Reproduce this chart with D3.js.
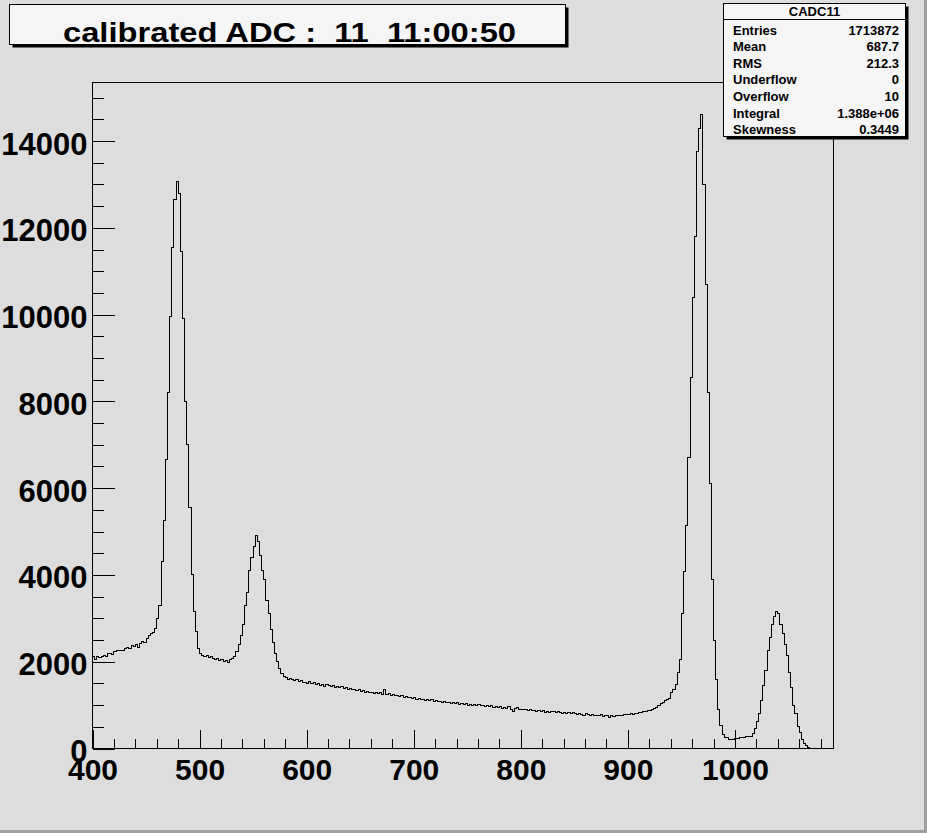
<!DOCTYPE html>
<html><head><meta charset="utf-8">
<script src="https://cdn.jsdelivr.net/npm/d3@7"></script>
<style>html,body{margin:0;padding:0;background:#dddddd;}svg{display:block;}</style>
</head><body>
<script>
// ---- data ----
const binStart = 400;
const binWidth = 2;
const xMax = 1092;
const counts = [
  2110,2060,2130,2100,2120,2150,2130,2180,2200,2170,
  2230,2260,2250,2270,2260,2300,2330,2310,2370,2340,
  2400,2330,2430,2460,2450,2530,2600,2640,2680,2760,
  3000,3300,4300,5250,6650,8200,9950,11550,12650,13070,
  12780,11450,9900,8000,7000,5550,4000,3150,2700,2300,
  2200,2150,2120,2140,2100,2130,2080,2050,2070,2020,
  2040,2000,2030,1990,2050,2080,2120,2230,2400,2600,
  2850,3300,3600,4100,4400,4650,4900,4780,4450,4100,
  3900,3400,3100,2750,2450,2200,2000,1850,1720,1670,
  1640,1600,1620,1590,1560,1580,1540,1560,1510,1530,
  1500,1540,1490,1510,1470,1500,1460,1480,1440,1470,
  1450,1430,1460,1410,1440,1400,1420,1390,1410,1370,
  1390,1350,1370,1340,1360,1320,1340,1300,1320,1290,
  1300,1270,1290,1260,1280,1250,1360,1240,1260,1230,
  1240,1210,1230,1200,1210,1180,1200,1170,1180,1150,
  1170,1140,1160,1130,1140,1110,1130,1100,1120,1090,
  1110,1080,1090,1060,1080,1050,1070,1040,1060,1030,
  1050,1020,1040,1010,1030,1000,1020,990,1010,980,
  1010,990,1000,970,990,960,980,950,970,940,
  960,930,950,920,960,900,860,930,950,900,
  910,890,900,870,890,870,880,850,870,860,
  880,840,860,830,850,860,820,850,830,810,
  840,810,830,800,820,810,790,810,790,770,
  800,780,770,790,770,760,770,780,730,770,
  760,720,760,740,760,750,770,760,780,790,
  780,800,790,810,800,830,820,850,860,880,
  870,900,930,950,990,1040,1070,1110,1130,1150,
  1280,1350,1470,1750,2050,3120,4080,5130,6700,8550,
  10400,11800,13750,14300,14618,13000,10700,8200,6100,3900,
  2500,1600,900,540,330,265,250,205,200,200,
  230,235,245,250,255,270,280,285,340,470,
  620,800,1100,1450,1800,2250,2550,2850,3050,3147,
  3120,2850,2650,2400,2150,1750,1400,1000,800,500,
  360,200,110,60,25,0,0,0,0,0,
  0,0,0,0,0,0
];
const xTickValues = [400,500,600,700,800,900,1000];
const yTickValues = [0,2000,4000,6000,8000,10000,12000,14000];
const titleText = "calibrated ADC :  11  11:00:50";
const statsName = "CADC11";
const statLabels = ["Entries","Mean","RMS","Underflow","Overflow","Integral","Skewness"];
const statValues = ["1713872","687.7","212.3","0","10","1.388e+06","0.3449"];

// ---- layout ----
const W = 927, H = 833;
const fx0 = 92.5, fx1 = 833.5, fy0 = 82.5, fy1 = 748.5;
const FONT = "'Liberation Sans', Arial, Helvetica, sans-serif";

const svg = d3.select("body").append("svg").attr("width", W).attr("height", H);
svg.append("rect").attr("width", W).attr("height", H).attr("fill", "#dddddd");
// canvas bevel (bottom / right darker)
svg.append("rect").attr("x", 0).attr("y", H - 3).attr("width", W).attr("height", 3).attr("fill", "#a0a0a0");
svg.append("rect").attr("x", W - 3).attr("y", 0).attr("width", 3).attr("height", H).attr("fill", "#a0a0a0");

const x = d3.scaleLinear().domain([binStart, xMax]).range([fx0, fx1]);
const ymax = d3.max(counts) * 1.05;
const y = d3.scaleLinear().domain([0, ymax]).range([fy1, fy0]);

// frame
svg.append("rect").attr("x", fx0).attr("y", fy0).attr("width", fx1 - fx0).attr("height", fy1 - fy0)
  .attr("fill", "#dddddd").attr("stroke", "#000").attr("stroke-width", 1).attr("shape-rendering", "crispEdges");

// histogram outline
let d = `M${x(binStart)},${y(counts[0])}`;
counts.forEach((c, i) => {
  d += `H${x(binStart + (i + 1) * binWidth)}`;
  if (i + 1 < counts.length) d += `V${y(counts[i + 1])}`;
});
svg.append("path").attr("d", d).attr("fill", "none").attr("stroke", "#000").attr("stroke-width", 1)
  .attr("shape-rendering", "crispEdges");

// y axis
const yMinor = d3.range(0, ymax, 500);
svg.append("g").attr("transform", `translate(${fx0},0)`)
  .call(d3.axisLeft(y).tickValues(yMinor).tickSizeInner(-11).tickSizeOuter(0).tickFormat(""))
  .call(g => g.select(".domain").remove());
const gy = svg.append("g").attr("transform", `translate(${fx0},0)`)
  .call(d3.axisLeft(y).tickValues(yTickValues).tickSizeInner(-22).tickSizeOuter(0).tickPadding(5).tickFormat(d3.format("d")));
gy.select(".domain").remove();
gy.selectAll("text").attr("font-family", FONT).attr("font-weight", "bold").attr("font-size", 31)
  .attr("fill", "#000").attr("dy", "0.42em");

// x axis
const xMinor = d3.range(binStart, xMax, 20);
svg.append("g").attr("transform", `translate(0,${fy1})`)
  .call(d3.axisBottom(x).tickValues(xMinor).tickSizeInner(-10).tickSizeOuter(0).tickFormat(""))
  .call(g => g.select(".domain").remove());
const gx = svg.append("g").attr("transform", `translate(0,${fy1})`)
  .call(d3.axisBottom(x).tickValues(xTickValues).tickSizeInner(-19).tickSizeOuter(0).tickPadding(10).tickFormat(d3.format("d")));
gx.select(".domain").remove();
gx.selectAll("text").attr("font-family", FONT).attr("font-weight", "bold").attr("font-size", 30).attr("fill", "#000");
svg.selectAll(".tick line").attr("stroke", "#000").attr("shape-rendering", "crispEdges");

// axis lines
svg.append("line").attr("x1", fx0).attr("x2", fx0).attr("y1", fy0).attr("y2", fy1).attr("stroke", "#000").attr("shape-rendering", "crispEdges");
svg.append("line").attr("x1", fx0).attr("x2", fx1).attr("y1", fy1).attr("y2", fy1).attr("stroke", "#000").attr("shape-rendering", "crispEdges");

// title pave
const tb = {x: 9.5, y: 4.5, w: 556, h: 40};
svg.append("rect").attr("x", tb.x + 3).attr("y", tb.y + 3).attr("width", tb.w).attr("height", tb.h).attr("fill", "#000");
svg.append("rect").attr("x", tb.x).attr("y", tb.y).attr("width", tb.w).attr("height", tb.h)
  .attr("fill", "#f5f5f5").attr("stroke", "#000").attr("shape-rendering", "crispEdges");
svg.append("text").attr("x", 289.5).attr("y", 41.5).attr("text-anchor", "middle")
  .attr("xml:space", "preserve").style("white-space", "pre")
  .attr("font-family", FONT).attr("font-weight", "bold").attr("font-size", 28)
  .attr("textLength", 453).attr("lengthAdjust", "spacingAndGlyphs")
  .text(titleText);

// stats pave
const sb = {x: 723.5, y: 3.5, w: 182, h: 133};
svg.append("rect").attr("x", sb.x + 3).attr("y", sb.y + 3).attr("width", sb.w).attr("height", sb.h).attr("fill", "#000");
svg.append("rect").attr("x", sb.x).attr("y", sb.y).attr("width", sb.w).attr("height", sb.h)
  .attr("fill", "#f5f5f5").attr("stroke", "#000").attr("shape-rendering", "crispEdges");
svg.append("line").attr("x1", sb.x).attr("x2", sb.x + sb.w).attr("y1", 19.5).attr("y2", 19.5)
  .attr("stroke", "#000").attr("shape-rendering", "crispEdges");
svg.append("text").attr("x", sb.x + sb.w / 2).attr("y", 16).attr("text-anchor", "middle")
  .attr("font-family", FONT).attr("font-weight", "bold").attr("font-size", 13).text(statsName);
statLabels.forEach((lab, i) => {
  const by = 34.5 + i * 16.6;
  svg.append("text").attr("x", 733).attr("y", by).attr("font-family", FONT).attr("font-weight", "bold")
    .attr("font-size", 13).text(lab);
  svg.append("text").attr("x", 899).attr("y", by).attr("text-anchor", "end").attr("font-family", FONT)
    .attr("font-weight", "bold").attr("font-size", 13).text(statValues[i]);
});
</script>
</body></html>
